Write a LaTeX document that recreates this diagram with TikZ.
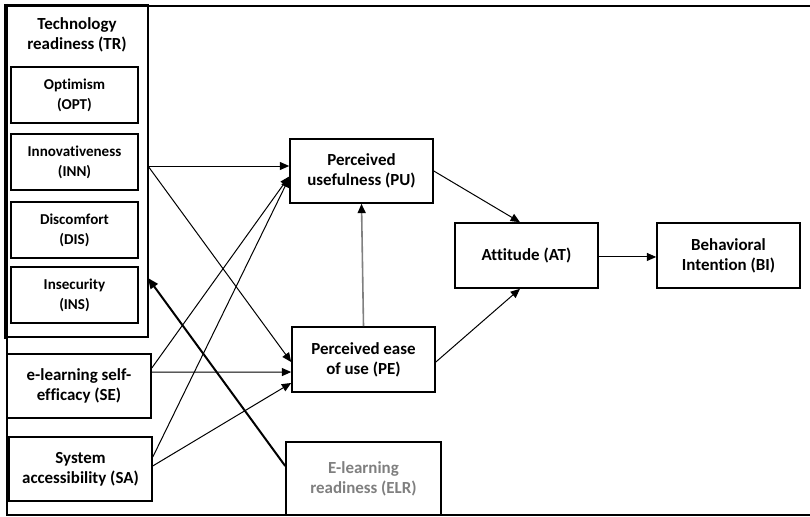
\documentclass[tikz,border=0pt]{standalone}
\usepackage{fontspec}
\setmainfont{Carlito}[RawFeature=-liga]
\usetikzlibrary{arrows.meta}
\definecolor{grayline}{HTML}{808080}
\definecolor{graytext}{HTML}{7F7F7F}
\tikzset{
  bx/.style 2 args={draw, line width=1.2pt, minimum width=#1*0.75pt, minimum height=#2*0.75pt, inner sep=0pt, align=center},
  maintxt/.style={font=\fontsize{12.7}{15}\selectfont\bfseries},
  subtxt/.style={font=\fontsize{11.3}{15}\selectfont\bfseries},
  arr/.style={line width=0.75pt, -{Triangle[length=7pt,width=6pt]}},
  grayarr/.style={line width=1.2pt, draw=grayline, -{Triangle[length=7pt,width=6pt,color=black]}},
  thickarr/.style={line width=1.5pt, -{Triangle[length=8pt,width=6.5pt]}},
}
\begin{document}
\begin{tikzpicture}[x=0.75pt,y=-0.75pt]
\useasboundingbox (0,0) rectangle (810,517);
% outer frame
\draw[line width=1.2pt] (7,6) -- (810,6);
\draw[line width=1.2pt] (7,6) -- (7,515) -- (810,515);
% Technology readiness group
\node[bx={141}{332}] (TR) at (77.5,171) {};
\draw[line width=2.4pt] (6,4) -- (6,339);
\node[maintxt, align=center] (TRt) at (77,35) {Technology\\readiness (TR)};
\node[bx={127}{56}, subtxt] (OPT) at (74.5,95) {Optimism\\(OPT)};
\node[bx={127}{56}, subtxt] (INN) at (74.5,162) {Innovativeness\\(INN)};
\node[bx={127}{56}, subtxt] (DIS) at (74.5,230) {Discomfort\\(DIS)};
\node[bx={127}{56}, subtxt] (INS) at (74.5,295) {Insecurity\\(INS)};
% other constructs
\node[bx={144}{64}, maintxt] (SE) at (79,386) {e-learning self-\\efficacy (SE)};
\node[bx={143}{64}, maintxt] (SA) at (80.5,469) {System\\accessibility (SA)};
\node[bx={143}{64}, maintxt] (PU) at (361.5,171) {Perceived\\usefulness (PU)};
\node[bx={143}{65}, maintxt] (PE) at (363.5,359.5) {Perceived ease\\of use (PE)};
\node[bx={143}{65}, maintxt] (AT) at (526.5,255.5) {Attitude (AT)};
\node[bx={143}{65}, maintxt] (BI) at (728.5,255.5) {Behavioral\\Intention (BI)};
\node[bx={155}{73}, maintxt, text=graytext] (ELR) at (363.5,478.5) {E-learning\\readiness (ELR)};
% connection points
\coordinate (trout) at (148,166);
\coordinate (trin) at (148,278);
% arrows
\draw[arr] (trout) -- (PU.west |- trout);
\draw[arr] (trout) -- ([yshift=-1.9pt]PE.west);
\draw[arr] ([yshift=13.5pt]SE.east) -- ([yshift=-4.1pt]PU.west);
\draw[arr] ([yshift=10.5pt]SE.east) -- ([yshift=-9.4pt]PE.west);
\draw[arr] ([yshift=9pt]SA.east) -- ([yshift=-5.2pt]PU.west);
\draw[arr] ([yshift=2.3pt]SA.east) -- ([yshift=-17.6pt]PE.west);
\draw[grayarr] (PE.north) -- (PU.south);
\draw[arr] (PU.east) -- ([xshift=-4.9pt]AT.north);
\draw[arr] ([yshift=-1.9pt]PE.east) -- ([xshift=-4.9pt]AT.south);
\draw[arr] ([yshift=-1.1pt]AT.east) -- ([yshift=-1.1pt]BI.west);
\draw[thickarr] ([yshift=9.4pt]ELR.west) -- (trin);
\end{tikzpicture}
\end{document}
